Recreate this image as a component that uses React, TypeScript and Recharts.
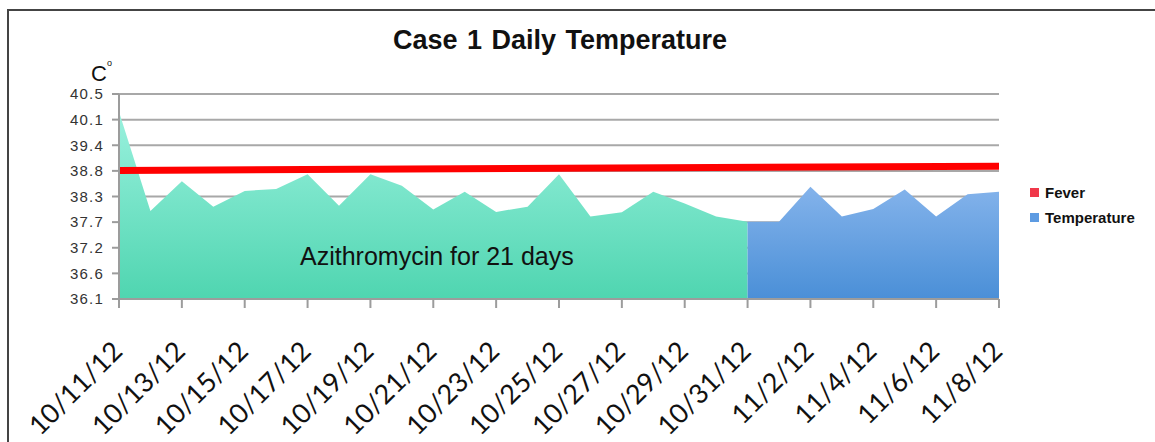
import { ComposedChart, Area, Line, XAxis, YAxis, CartesianGrid } from "recharts";

const DATES = [
  "10/11/12", "10/12/12", "10/13/12", "10/14/12", "10/15/12", "10/16/12", "10/17/12",
  "10/18/12", "10/19/12", "10/20/12", "10/21/12", "10/22/12", "10/23/12", "10/24/12",
  "10/25/12", "10/26/12", "10/27/12", "10/28/12", "10/29/12", "10/30/12", "10/31/12",
  "11/1/12", "11/2/12", "11/3/12", "11/4/12", "11/5/12", "11/6/12", "11/7/12", "11/8/12",
];

// 21 days on azithromycin (10/11 - 10/31)
const AZITHRO_TEMPS = [
  40.12, 37.99, 38.63, 38.08, 38.42, 38.46, 38.78, 38.1, 38.78, 38.53, 38.02,
  38.4, 37.97, 38.08, 38.78, 37.87, 37.96, 38.4, 38.15, 37.87, 37.76,
];
// 10/31 - 11/8
const AFTER_TEMPS = [37.76, 37.76, 38.51, 37.87, 38.03, 38.45, 37.87, 38.35, 38.4];
const AFTER_START = 20;

const FEVER_START = 38.86;
const FEVER_END = 38.95;

const Y_TICKS = [36.1, 36.65, 37.2, 37.75, 38.3, 38.85, 39.4, 39.95, 40.5];
const Y_LABELS = ["36.1", "36.6", "37.2", "37.7", "38.3", "38.8", "39.4", "40.1", "40.5"];

const LEGEND_ITEMS = [
  { name: "Fever", color: "#f0384a" },
  { name: "Temperature", color: "#5d9be2" },
];

const data = DATES.map((date, i) => ({
  date,
  azithro: i < AZITHRO_TEMPS.length ? AZITHRO_TEMPS[i] : null,
  temp: i >= AFTER_START ? AFTER_TEMPS[i - AFTER_START] : null,
  fever: i === 0 ? FEVER_START : i === DATES.length - 1 ? FEVER_END : null,
}));

const sans = "'Liberation Sans', Arial, sans-serif";

function DateTick({ x, y, payload }: any) {
  return (
    <g transform={`translate(${x + 5},${y + 43})`}>
      <text
        x={0}
        y={0}
        transform="rotate(-45)"
        textAnchor="end"
        fontFamily="Lato, sans-serif"
        fontSize={27}
        fill="#111"
      >
        {payload.value}
      </text>
    </g>
  );
}

function CelsiusLabel({ viewBox }: any) {
  const x = viewBox.x;
  const y = viewBox.y;
  return (
    <g>
      <text x={x + 91} y={y - 13} fontFamily={sans} fontSize={22} fill="#111">C</text>
      <text x={x + 107} y={y - 28} fontFamily={sans} fontSize={9} fill="#111">o</text>
    </g>
  );
}

export default function App() {
  return (
    <div style={{ position: "absolute", left: 0, top: 0, width: 1155, height: 442, background: "#fff", overflow: "hidden" }}>
      <div
        style={{
          position: "absolute",
          left: 7,
          top: 9,
          width: 1200,
          height: 500,
          borderLeft: "2px solid #444",
          borderTop: "2px solid #444",
        }}
      />
      <div
        style={{
          position: "absolute",
          left: 0,
          width: 1120,
          top: 25,
          textAlign: "center",
          fontFamily: sans,
          fontWeight: "bold",
          fontSize: 27,
          wordSpacing: 2,
          color: "#111",
          lineHeight: "30px",
        }}
      >
        Case 1 Daily Temperature
      </div>
      <ComposedChart
        width={1155}
        height={442}
        data={data}
        margin={{ top: 94, right: 156, left: 0, bottom: 0 }}
        style={{ position: "absolute", left: 0, top: 0 }}
      >
        <defs>
          <linearGradient id="greenFill" x1="0" y1="0" x2="0" y2="1">
            <stop offset="0%" stopColor="#9af1de" />
            <stop offset="100%" stopColor="#4fd5b0" />
          </linearGradient>
          <linearGradient id="blueFill" x1="0" y1="0" x2="0" y2="1">
            <stop offset="0%" stopColor="#84b3eb" />
            <stop offset="100%" stopColor="#4a8fd7" />
          </linearGradient>
        </defs>
        <CartesianGrid vertical={false} stroke="#a8a8a8" strokeWidth={2} />
        <XAxis
          dataKey="date"
          scale="point"
          interval={1}
          height={143}
          tickSize={9}
          axisLine={{ stroke: "#9c9c9c", strokeWidth: 2 }}
          tickLine={{ stroke: "#9c9c9c", strokeWidth: 2 }}
          tick={<DateTick />}
        />
        <YAxis
          type="number"
          domain={[36.1, 40.5]}
          ticks={Y_TICKS}
          interval={0}
          width={119}
          tickSize={7}
          tickMargin={8}
          axisLine={{ stroke: "#9c9c9c", strokeWidth: 2 }}
          tickLine={{ stroke: "#9c9c9c", strokeWidth: 2 }}
          tick={{ fontFamily: sans, fontSize: 15, fill: "#333", letterSpacing: 1.2 }}
          tickFormatter={(v: number) => Y_LABELS[Y_TICKS.indexOf(v)]}
          label={<CelsiusLabel />}
        />
        <Area
          type="linear"
          dataKey="azithro"
          name="Azithromycin"
          legendType="none"
          stroke="none"
          fill="url(#greenFill)"
          fillOpacity={1}
          isAnimationActive={false}
        />
        <Area
          type="linear"
          dataKey="temp"
          name="Temperature"
          stroke="none"
          fill="url(#blueFill)"
          fillOpacity={1}
          isAnimationActive={false}
        />
        <Line
          type="linear"
          dataKey="fever"
          name="Fever"
          stroke="#ff0000"
          strokeWidth={7}
          dot={false}
          activeDot={false}
          connectNulls
          isAnimationActive={false}
        />
      </ComposedChart>
      <div
        style={{
          position: "absolute",
          left: 1030,
          top: 180,
          fontFamily: sans,
          fontWeight: "bold",
          fontSize: 15,
          color: "#111",
        }}
      >
        {LEGEND_ITEMS.map((item) => (
          <div key={item.name} style={{ display: "flex", alignItems: "center", height: 25 }}>
            <span style={{ width: 9, height: 9, background: item.color, marginRight: 6 }} />
            {item.name}
          </div>
        ))}
      </div>
      <div
        style={{
          position: "absolute",
          left: 300,
          top: 244,
          fontFamily: sans,
          fontSize: 25,
          lineHeight: "25px",
          color: "#111",
          whiteSpace: "nowrap",
        }}
      >
        Azithromycin for 21 days
      </div>
    </div>
  );
}
